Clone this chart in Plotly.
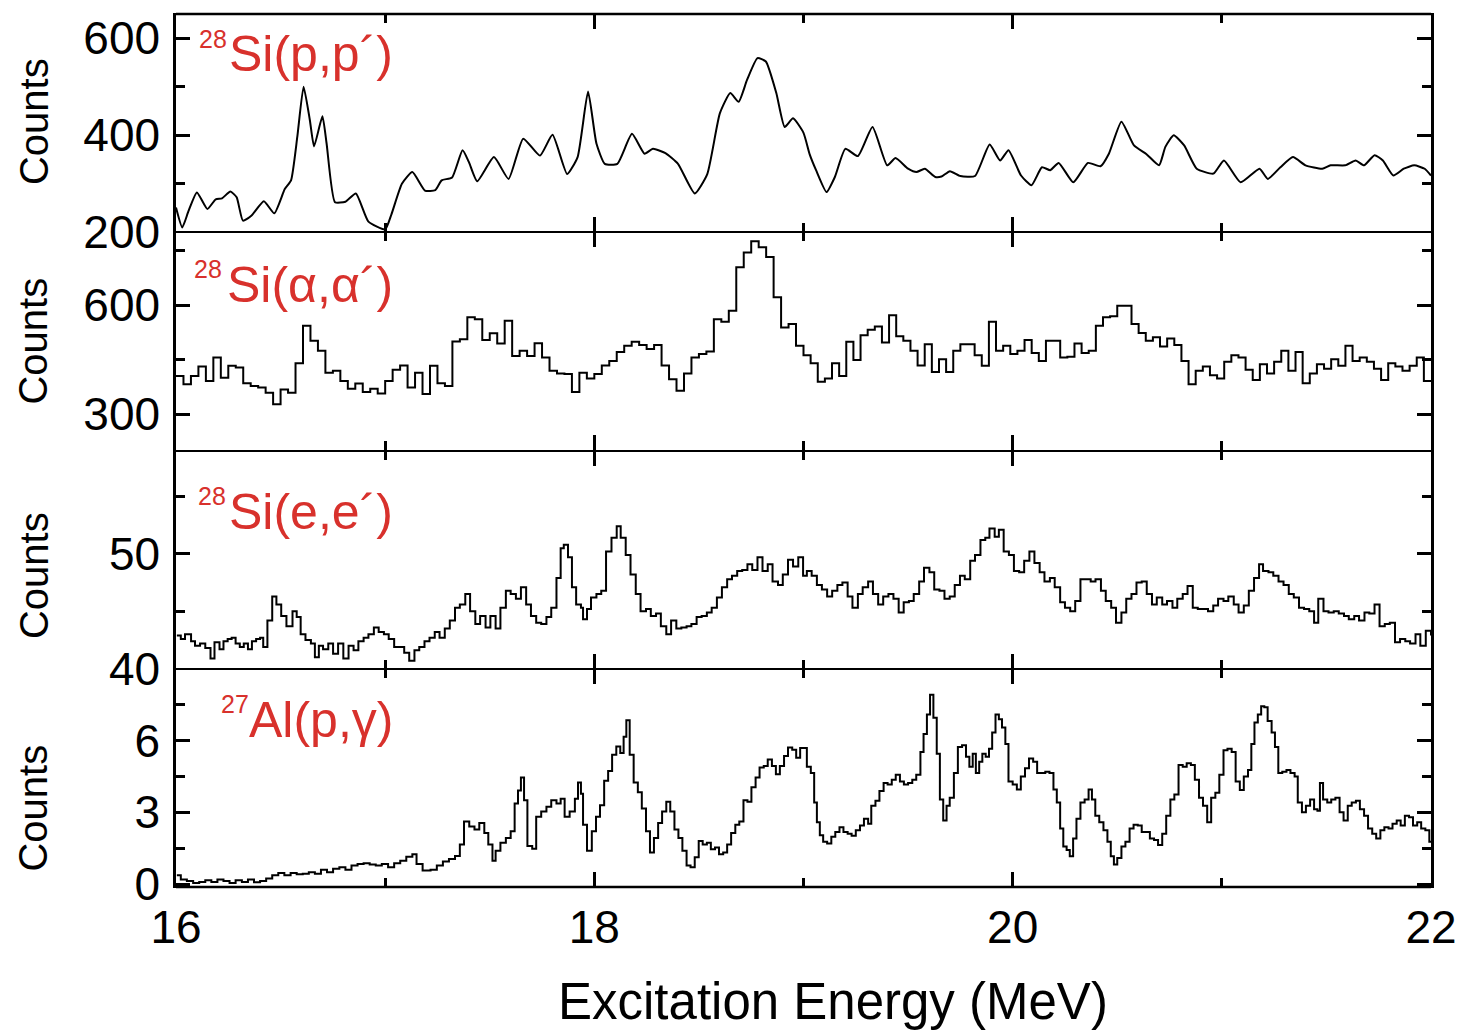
import numpy as np
import plotly.graph_objects as go
from plotly.subplots import make_subplots

# ---------------- data ----------------
# Panel 1: 28Si(p,p')
pp_energy = [16.00, 16.03, 16.06, 16.10, 16.15, 16.19, 16.22, 16.26, 16.29, 16.32,
             16.36, 16.42, 16.47, 16.52, 16.55, 16.58, 16.61, 16.64, 16.66, 16.70,
             16.72, 16.76, 16.81, 16.86, 16.92, 17.00, 17.03, 17.08, 17.13, 17.19,
             17.24, 17.27, 17.32, 17.37, 17.40, 17.44, 17.52, 17.59, 17.66, 17.74,
             17.80, 17.87, 17.92, 17.97, 18.01, 18.05, 18.11, 18.18, 18.24, 18.28,
             18.34, 18.40, 18.48, 18.54, 18.60, 18.65, 18.69, 18.73, 18.78, 18.82,
             18.87, 18.91, 18.95, 19.00, 19.03, 19.06, 19.11, 19.15, 19.20, 19.26,
             19.33, 19.40, 19.44, 19.50, 19.54, 19.58, 19.63, 19.66, 19.70, 19.75,
             19.82, 19.89, 19.94, 19.98, 20.04, 20.09, 20.14, 20.18, 20.22, 20.29,
             20.36, 20.42, 20.46, 20.52, 20.58, 20.64, 20.70, 20.73, 20.77, 20.82,
             20.88, 20.96, 21.01, 21.09, 21.18, 21.22, 21.28, 21.34, 21.40, 21.48,
             21.52, 21.59, 21.64, 21.68, 21.73, 21.77, 21.82, 21.87, 21.92, 21.97,
             22.00]
pp_counts = [251, 210, 244, 282, 248, 268, 270, 284, 272, 224,
             234, 264, 239, 289, 307, 397, 500, 431, 377, 439,
             383, 262, 263, 280, 222, 206, 237, 300, 324, 286,
             287, 307, 313, 369, 345, 305, 355, 310, 393, 358,
             401, 320, 355, 490, 383, 341, 341, 403, 362, 372,
             363, 341, 280, 320, 445, 487, 469, 514, 559, 552,
             487, 417, 435, 405, 360, 328, 283, 314, 372, 357,
             417, 338, 353, 331, 324, 331, 314, 315, 326, 316,
             316, 381, 348, 369, 317, 297, 334, 328, 343, 303,
             343, 336, 362, 428, 379, 361, 338, 376, 400, 379,
             331, 321, 348, 303, 331, 310, 334, 355, 338, 331,
             338, 338, 348, 338, 359, 348, 317, 331, 338, 331,
             317]

# Panel 2: 28Si(alpha,alpha') histogram bins (16-19 MeV and 19-22 MeV)
aa_counts_low = [405, 382, 405, 431, 391, 456, 400, 433, 428, 385,
                 377, 373, 359, 327, 368, 359, 440, 543, 502, 474,
                 414, 419, 391, 370, 384, 361, 370, 357, 391, 422,
                 434, 373, 414, 355, 433, 385, 377, 500, 506, 566,
                 561, 504, 522, 494, 557, 460, 474, 460, 495, 456,
                 419, 412, 410, 361, 414, 398, 410, 434, 446, 471,
                 488, 499, 490, 479, 490, 434, 396, 364, 412, 456,
                 465, 472, 561, 554, 584, 704, 744, 775, 759, 732,
                 621, 538, 548, 488]
aa_counts_high = [462, 440, 389, 398, 440, 405, 499, 449, 517, 532,
                  541, 497, 572, 514, 502, 474, 434, 492, 416, 451,
                  416, 474, 492, 492, 462, 433, 554, 474, 488, 465,
                  474, 504, 468, 446, 502, 502, 456, 458, 494, 468,
                  474, 543, 566, 569, 598, 598, 548, 523, 502, 511,
                  486, 508, 490, 446, 382, 419, 431, 407, 398, 444,
                  462, 456, 422, 394, 437, 412, 444, 474, 419, 471,
                  385, 412, 437, 425, 451, 433, 488, 446, 456, 444,
                  425, 394, 440, 431, 419, 433, 456, 391]

# Panel 3: 28Si(e,e')
ee_energy = [16.004, 16.023, 16.043, 16.072, 16.091, 16.115, 16.140, 16.165, 16.184, 16.208,
             16.227, 16.247, 16.266, 16.285, 16.305, 16.324, 16.344, 16.363, 16.383, 16.402,
             16.417, 16.437, 16.460, 16.480, 16.503, 16.528, 16.557, 16.577, 16.596, 16.619,
             16.645, 16.664, 16.683, 16.703, 16.728, 16.751, 16.775, 16.800, 16.825, 16.849,
             16.872, 16.897, 16.920, 16.946, 16.969, 16.994, 17.017, 17.043, 17.066, 17.091,
             17.115, 17.140, 17.163, 17.188, 17.212, 17.237, 17.260, 17.285, 17.309, 17.334,
             17.357, 17.383, 17.406, 17.431, 17.454, 17.480, 17.503, 17.528, 17.551, 17.577,
             17.600, 17.625, 17.649, 17.674, 17.697, 17.722, 17.746, 17.771, 17.794, 17.819,
             17.839, 17.854, 17.874, 17.893, 17.913, 17.936, 17.946, 17.965, 17.984, 18.010,
             18.033, 18.056, 18.082, 18.107, 18.126, 18.150, 18.173, 18.198, 18.221, 18.247,
             18.270, 18.295, 18.318, 18.344, 18.367, 18.392, 18.416, 18.441, 18.464, 18.489,
             18.513, 18.538, 18.561, 18.586, 18.610, 18.635, 18.658, 18.683, 18.707, 18.732,
             18.755, 18.780, 18.804, 18.829, 18.852, 18.878, 18.901, 18.926, 18.950, 18.975,
             18.998,
             19.016, 19.039, 19.064, 19.088, 19.113, 19.137, 19.162, 19.186, 19.211, 19.234,
             19.260, 19.283, 19.309, 19.332, 19.357, 19.381, 19.406, 19.430, 19.455, 19.479,
             19.504, 19.527, 19.553, 19.576, 19.602, 19.625, 19.650, 19.674, 19.699, 19.723,
             19.748, 19.771, 19.797, 19.820, 19.846, 19.869, 19.889, 19.914, 19.934, 19.957,
             19.982, 20.006, 20.031, 20.055, 20.080, 20.104, 20.129, 20.152, 20.178, 20.201,
             20.227, 20.250, 20.275, 20.299, 20.324, 20.348, 20.373, 20.396, 20.422, 20.445,
             20.471, 20.494, 20.520, 20.543, 20.568, 20.592, 20.617, 20.641, 20.666, 20.689,
             20.715, 20.738, 20.764, 20.787, 20.813, 20.836, 20.861, 20.885, 20.910, 20.934,
             20.959, 20.982, 21.008, 21.031, 21.057, 21.080, 21.105, 21.129, 21.154, 21.178,
             21.197, 21.223, 21.246, 21.271, 21.295, 21.320, 21.344, 21.369, 21.393, 21.418,
             21.441, 21.461, 21.486, 21.510, 21.535, 21.559, 21.584, 21.607, 21.633, 21.656,
             21.682, 21.705, 21.730, 21.754, 21.779, 21.803, 21.828, 21.852, 21.877, 21.900,
             21.926, 21.949, 21.975, 22.000]
ee_counts = [42.9, 42.6, 43.0, 42.4, 42.0, 42.2, 41.8, 40.9, 42.3, 41.7,
             42.4, 42.6, 42.7, 42.2, 41.9, 42.2, 41.7, 42.4, 42.6, 42.7,
             41.9, 44.2, 46.3, 45.6, 44.6, 43.7, 45.0, 44.5, 43.0, 42.5,
             42.2, 41.0, 42.0, 41.7, 42.2, 41.3, 42.2, 40.9, 42.0, 41.6,
             42.4, 42.7, 43.0, 43.6, 43.2, 43.0, 42.6, 41.9, 41.9, 41.4,
             40.7, 41.6, 41.9, 42.4, 42.7, 43.2, 42.7, 43.5, 44.2, 45.3,
             45.6, 46.5, 45.0, 43.9, 44.6, 43.6, 44.6, 43.5, 45.3, 46.8,
             46.5, 46.1, 47.1, 45.6, 44.6, 44.0, 43.9, 44.5, 45.3, 47.9,
             50.5, 50.8, 49.7, 47.1, 45.6, 45.3, 44.3, 45.2, 46.2, 46.5,
             46.8, 50.2, 51.4, 52.4, 51.4, 49.9, 48.2, 46.5, 45.0, 45.2,
             44.6, 44.8, 43.7, 43.0, 44.2, 43.5, 43.6, 43.7, 43.9, 44.5,
             44.6, 44.9, 45.3, 46.2, 47.1, 47.8, 48.1, 48.5, 48.6, 49.1,
             48.6, 49.7, 48.5, 49.1, 47.6, 47.3, 48.2, 49.5, 48.9, 49.7,
             48.1,
             48.5, 48.1, 47.3, 46.9, 46.3, 46.8, 47.3, 47.5, 46.3, 45.3,
             46.5, 47.1, 47.6, 46.5, 45.6, 46.3, 46.5, 46.1, 44.9, 45.8,
             45.9, 46.5, 47.6, 48.8, 48.4, 46.9, 46.8, 46.1, 46.3, 47.3,
             48.1, 47.8, 49.4, 49.9, 51.2, 51.4, 52.2, 51.5, 52.1, 50.2,
             49.9, 48.5, 48.4, 49.4, 50.2, 49.2, 48.4, 47.6, 47.9, 47.1,
             45.8, 45.3, 45.0, 45.9, 47.8, 47.8, 47.6, 47.8, 46.8, 45.9,
             45.3, 44.0, 44.9, 46.1, 46.5, 47.5, 47.6, 46.5, 45.6, 46.2,
             45.6, 45.9, 45.3, 46.1, 46.5, 47.2, 45.3, 45.2, 45.2, 45.0,
             45.5, 46.1, 45.9, 46.3, 45.6, 44.9, 45.5, 46.8, 47.9, 49.1,
             48.5, 48.4, 48.1, 47.6, 47.3, 46.5, 46.2, 45.3, 45.2, 45.0,
             44.0, 46.1, 45.0, 44.9, 45.0, 44.8, 44.6, 44.3, 44.6, 44.2,
             44.9, 44.8, 45.6, 43.7, 43.9, 44.0, 42.3, 42.6, 42.4, 42.2,
             43.0, 42.0, 43.3, 42.9]

# Panel 4: 27Al(p,gamma)
pg_energy = [16.004, 16.023, 16.052, 16.082, 16.111, 16.140, 16.169, 16.198, 16.227, 16.256,
             16.285, 16.315, 16.344, 16.373, 16.402, 16.431, 16.460, 16.489, 16.518, 16.548,
             16.577, 16.606, 16.635, 16.664, 16.693, 16.722, 16.751, 16.781, 16.810, 16.839,
             16.868, 16.897, 16.926, 16.955, 16.984, 17.014, 17.043, 17.072, 17.101, 17.130,
             17.150, 17.179, 17.217, 17.247, 17.276, 17.305, 17.334, 17.357, 17.377, 17.402,
             17.427, 17.450, 17.474, 17.493, 17.513, 17.528, 17.551, 17.577, 17.600, 17.619,
             17.635, 17.649, 17.664, 17.680, 17.703, 17.722, 17.746, 17.771, 17.794, 17.819,
             17.839, 17.858, 17.882, 17.907, 17.922, 17.936, 17.946, 17.965, 17.988, 18.008,
             18.027, 18.047, 18.066, 18.085, 18.105, 18.124, 18.140, 18.153, 18.169, 18.188,
             18.208, 18.227, 18.247, 18.266, 18.285, 18.305, 18.324, 18.344, 18.363, 18.383,
             18.402, 18.421, 18.441, 18.460, 18.480, 18.499, 18.518, 18.538, 18.557, 18.577,
             18.596, 18.616, 18.635, 18.654, 18.674, 18.693, 18.713, 18.732, 18.751, 18.771,
             18.790, 18.810, 18.829, 18.849, 18.868, 18.887, 18.907, 18.926, 18.946, 18.965,
             18.984,
             19.016, 19.035, 19.051, 19.064, 19.078, 19.094, 19.113, 19.133, 19.152, 19.172,
             19.191, 19.211, 19.230, 19.250, 19.270, 19.289, 19.309, 19.324, 19.344, 19.363,
             19.383, 19.402, 19.422, 19.441, 19.461, 19.480, 19.500, 19.520, 19.539, 19.559,
             19.574, 19.590, 19.605, 19.621, 19.637, 19.652, 19.668, 19.684, 19.699, 19.719,
             19.738, 19.758, 19.777, 19.793, 19.809, 19.824, 19.840, 19.855, 19.871, 19.887,
             19.902, 19.918, 19.934, 19.949, 19.965, 19.980, 20.000, 20.020, 20.039, 20.059,
             20.078, 20.098, 20.117, 20.137, 20.156, 20.176, 20.195, 20.211, 20.227, 20.242,
             20.258, 20.273, 20.289, 20.305, 20.324, 20.344, 20.363, 20.379, 20.395, 20.414,
             20.434, 20.453, 20.469, 20.484, 20.500, 20.520, 20.539, 20.559, 20.578, 20.598,
             20.617, 20.637, 20.656, 20.676, 20.695, 20.715, 20.734, 20.754, 20.773, 20.793,
             20.813, 20.832, 20.852, 20.871, 20.891, 20.910, 20.930, 20.949, 20.969, 20.988,
             21.008, 21.027, 21.047, 21.066, 21.086, 21.105, 21.125, 21.141, 21.156, 21.172,
             21.188, 21.203, 21.219, 21.238, 21.254, 21.270, 21.289, 21.309, 21.328, 21.348,
             21.363, 21.383, 21.402, 21.422, 21.441, 21.457, 21.469, 21.484, 21.504, 21.523,
             21.543, 21.563, 21.582, 21.602, 21.621, 21.641, 21.660, 21.680, 21.699, 21.719,
             21.738, 21.758, 21.777, 21.797, 21.816, 21.836, 21.855, 21.875, 21.895, 21.914,
             21.934, 21.953, 21.973, 21.992]
pg_counts = [0.37, 0.19, 0.13, 0.05, 0.09, 0.16, 0.09, 0.19, 0.13, 0.05,
             0.16, 0.09, 0.19, 0.08, 0.13, 0.23, 0.37, 0.46, 0.37, 0.46,
             0.41, 0.43, 0.50, 0.43, 0.60, 0.50, 0.64, 0.71, 0.60, 0.78,
             0.84, 0.87, 0.82, 0.78, 0.84, 0.71, 0.87, 0.98, 1.14, 1.25,
             0.84, 0.57, 0.60, 0.78, 0.95, 1.05, 1.18, 1.66, 2.62, 2.41,
             2.28, 2.55, 2.14, 1.66, 0.98, 1.39, 1.73, 1.93, 2.21, 3.37,
             3.91, 4.46, 3.50, 1.59, 1.48, 2.82, 3.03, 3.23, 3.50, 3.37,
             3.57, 2.82, 3.03, 3.57, 4.25, 3.78, 2.48, 1.39, 2.21, 2.82,
             3.30, 4.32, 4.73, 5.41, 5.75, 5.48, 6.16, 6.85, 5.41, 4.25,
             3.84, 3.16, 2.21, 1.32, 1.93, 2.55, 3.03, 3.44, 3.03, 2.28,
             1.93, 1.39, 0.78, 0.71, 1.12, 1.80, 1.66, 1.73, 1.46, 1.53,
             1.25, 1.32, 1.66, 2.14, 2.48, 2.62, 3.50, 3.44, 4.05, 4.46,
             4.87, 4.94, 5.21, 4.94, 4.59, 4.94, 5.35, 5.71, 5.62, 5.28,
             5.69,
             4.91, 4.64, 3.41, 2.59, 2.04, 1.77, 1.70, 1.98, 2.18, 2.38,
             2.18, 2.11, 2.02, 2.25, 2.45, 2.73, 2.52, 3.27, 3.48, 3.89,
             4.23, 4.16, 4.36, 4.57, 4.29, 4.16, 4.23, 4.36, 4.57, 5.52,
             6.27, 7.09, 7.91, 6.95, 5.45, 3.54, 2.66, 3.27, 3.61, 4.64,
             5.73, 5.80, 5.32, 4.91, 5.45, 4.64, 5.11, 5.45, 5.32, 5.66,
             6.34, 7.09, 6.89, 6.55, 5.86, 4.29, 4.16, 3.95, 4.50, 4.84,
             5.25, 5.11, 4.64, 4.64, 4.70, 4.64, 3.95, 3.41, 2.32, 1.57,
             1.43, 1.16, 1.91, 2.73, 3.41, 3.54, 3.95, 3.54, 2.86, 2.59,
             2.25, 1.77, 1.16, 0.82, 1.09, 1.57, 1.77, 2.32, 2.48, 2.45,
             2.18, 2.18, 1.91, 1.84, 1.63, 2.11, 2.86, 3.54, 3.75, 4.98,
             4.91, 5.05, 4.98, 4.36, 3.61, 3.27, 2.59, 3.61, 3.82, 4.57,
             5.59, 5.66, 5.52, 4.29, 3.93, 4.50, 4.77, 5.86, 6.75, 7.09,
             7.43, 7.39, 6.82, 6.34, 5.73, 4.64, 4.70, 4.77, 4.64, 4.50,
             3.41, 3.00, 3.27, 3.54, 3.13, 3.07, 4.23, 3.54, 3.41, 3.54,
             3.61, 3.00, 2.66, 3.27, 3.41, 3.48, 3.13, 2.86, 2.32, 2.11,
             1.91, 2.25, 2.38, 2.32, 2.52, 2.66, 2.45, 2.86, 2.79, 2.45,
             2.59, 2.32, 2.25, 1.77]

labels_iso = ["28", "28", "28", "27"]
labels_rxn = ["Si(p,p´)", "Si(α,α´)", "Si(e,e´)", "Al(p,γ)"]
y_ranges = [[200, 650], [200, 800], [40, 59], [-0.12, 9]]
y_tickvals = [[200, 400, 600], [300, 600], [40, 50], [0, 3, 6]]
y_minor = [(200, 100), (300, 150), (40, 5), (0, 1.5)]
x_tickvals = [16, 18, 20, 22]

# alpha histogram bin grid (bin starting energies)
aa_energy = list(np.linspace(16.0, 19.0, len(aa_counts_low), endpoint=False)) + \
            list(np.linspace(19.0, 22.0, len(aa_counts_high), endpoint=False))
aa_counts = aa_counts_low + aa_counts_high

# ---------------- figure ----------------
RED = "#d8312c"
FONT = "Liberation Sans, Arial, sans-serif"

fig = make_subplots(rows=4, cols=1, shared_xaxes=True, vertical_spacing=0)

line = dict(color="black", width=2)
fig.add_trace(go.Scatter(x=pp_energy, y=pp_counts, mode="lines",
                         line=dict(line, shape="spline", smoothing=0.5)), row=1, col=1)
fig.add_trace(go.Scatter(x=aa_energy + [22.0], y=aa_counts + [aa_counts[-1]], mode="lines",
                         line=dict(line, shape="hv")), row=2, col=1)
fig.add_trace(go.Scatter(x=ee_energy, y=ee_counts, mode="lines",
                         line=dict(line, shape="hv")), row=3, col=1)
fig.add_trace(go.Scatter(x=pg_energy + [22.0], y=pg_counts + [pg_counts[-1]], mode="lines",
                         line=dict(line, shape="hv")), row=4, col=1)

for r in range(1, 5):
    fig.update_xaxes(row=r, col=1, range=[16, 22], tickmode="array", tickvals=x_tickvals,
                     ticks="inside", ticklen=15, tickwidth=2.5, tickcolor="black",
                     showline=True, linewidth=1.3, linecolor="black", mirror="ticks",
                     showgrid=False, zeroline=False,
                     minor=dict(ticks="inside", ticklen=9, tickwidth=2.5, tickcolor="black",
                                tick0=16, dtick=1, showgrid=False),
                     showticklabels=(r == 4),
                     tickfont=dict(family=FONT, size=46, color="black"))
    t0, dt = y_minor[r - 1]
    fig.update_yaxes(row=r, col=1, range=y_ranges[r - 1], tickmode="array",
                     tickvals=y_tickvals[r - 1],
                     ticks="inside", ticklen=14, tickwidth=2.5, tickcolor="black",
                     showline=True, linewidth=2.5, linecolor="black", mirror="ticks",
                     showgrid=False, zeroline=False,
                     minor=dict(ticks="inside", ticklen=9, tickwidth=2.5, tickcolor="black",
                                tick0=t0, dtick=dt, showgrid=False),
                     tickfont=dict(family=FONT, size=46, color="black"),
                     ticklabelstandoff=4)

# outer top/bottom border lines at full weight
for yb in (0, 1):
    fig.add_shape(type="line", xref="paper", yref="paper", x0=0, x1=1, y0=yb, y1=yb,
                  line=dict(color="black", width=2.6), layer="above")

W_PLOT = 1469 - 176 - 35
H_PLOT = 1030 - 12 - 143


def px_x(px):
    return (px - 176) / W_PLOT


def px_y(py):
    return (887 - py) / H_PLOT


# "Counts" axis titles
for yc in [120, 340, 575, 808]:
    fig.add_annotation(text="Counts", xref="paper", yref="paper", x=px_x(33), y=px_y(yc),
                       xanchor="center", yanchor="middle", textangle=-90, showarrow=False,
                       font=dict(family=FONT, size=40, color="black"))

# reaction labels
main_pos = [(396, 52), (396, 284), (396, 511), (396, 720)]
sup_pos = [(229, 37), (224, 268), (228, 495), (251, 704)]
for i in range(4):
    fig.add_annotation(text=labels_rxn[i], xref="paper", yref="paper",
                       x=px_x(main_pos[i][0]), y=px_y(main_pos[i][1]),
                       xanchor="right", yanchor="middle", showarrow=False,
                       font=dict(family=FONT, size=50, color=RED))
    fig.add_annotation(text=labels_iso[i], xref="paper", yref="paper",
                       x=px_x(sup_pos[i][0]), y=px_y(sup_pos[i][1]),
                       xanchor="right", yanchor="middle", showarrow=False,
                       font=dict(family=FONT, size=25, color=RED))

# x-axis title
fig.add_annotation(text="Excitation Energy (MeV)", xref="paper", yref="paper",
                   x=px_x(835), y=px_y(1002), xanchor="center", yanchor="middle",
                   showarrow=False, font=dict(family=FONT, size=51, color="black"))

fig.update_layout(width=1469, height=1030, showlegend=False,
                  margin=dict(l=176, r=35, t=12, b=143),
                  plot_bgcolor="white", paper_bgcolor="white")

fig.write_html("out.html")
